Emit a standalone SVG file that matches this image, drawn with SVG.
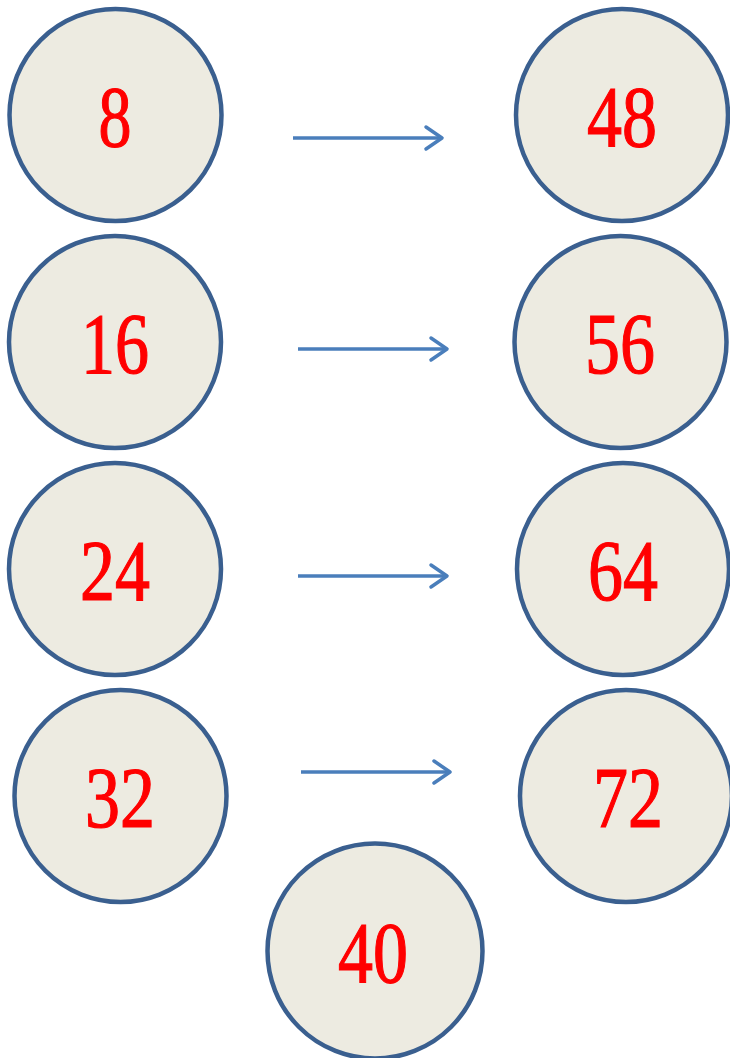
<svg xmlns="http://www.w3.org/2000/svg" width="730" height="1058" viewBox="0 0 730 1058">
<defs>
<style>
.n circle{fill:#EDEBE1;stroke:#3A5F8F;stroke-width:4.5}
.n text{font-family:"Liberation Serif",serif;font-size:86px;fill:#FF0000;stroke:#FF0000;stroke-width:1.2;text-anchor:middle}
.c line{stroke:#4A7EBB;stroke-width:3.5;fill:none}
.c path{stroke:#4A7EBB;stroke-width:3.5;fill:none;stroke-linecap:round;stroke-linejoin:round}
</style>
</defs>
<rect width="730" height="1058" fill="#FFFFFF"/>
<g class="c" id="connectors">
<line x1="293" y1="138" x2="441" y2="138"/><path d="M426,127 L442,138 L426,149"/>
<line x1="298" y1="349" x2="446" y2="349"/><path d="M431,338 L447,349 L431,360"/>
<line x1="298" y1="576" x2="446" y2="576"/><path d="M431,565 L447,576 L431,587"/>
<line x1="301" y1="772" x2="449" y2="772"/><path d="M434,761 L450,772 L434,783"/>
</g>
<g class="n" id="n8"><circle cx="115.5" cy="115" r="106"/><text x="115" y="146" textLength="33" lengthAdjust="spacingAndGlyphs">8</text></g>
<g class="n" id="n16"><circle cx="115" cy="342" r="106"/><text x="115" y="373" textLength="68" lengthAdjust="spacingAndGlyphs">16</text></g>
<g class="n" id="n24"><circle cx="115" cy="569" r="106"/><text x="115" y="600" textLength="70" lengthAdjust="spacingAndGlyphs">24</text></g>
<g class="n" id="n32"><circle cx="120.5" cy="796" r="106"/><text x="120" y="827" textLength="70" lengthAdjust="spacingAndGlyphs">32</text></g>
<g class="n" id="n40"><circle cx="375" cy="951" r="107.5"/><text x="373" y="982" textLength="70" lengthAdjust="spacingAndGlyphs">40</text></g>
<g class="n" id="n48"><circle cx="622" cy="115" r="106"/><text x="622" y="146" textLength="70" lengthAdjust="spacingAndGlyphs">48</text></g>
<g class="n" id="n56"><circle cx="620.5" cy="342" r="106"/><text x="620" y="373" textLength="70" lengthAdjust="spacingAndGlyphs">56</text></g>
<g class="n" id="n64"><circle cx="623" cy="569" r="106"/><text x="623" y="600" textLength="70" lengthAdjust="spacingAndGlyphs">64</text></g>
<g class="n" id="n72"><circle cx="626" cy="796" r="106"/><text x="628" y="827" textLength="70" lengthAdjust="spacingAndGlyphs">72</text></g>
</svg>
